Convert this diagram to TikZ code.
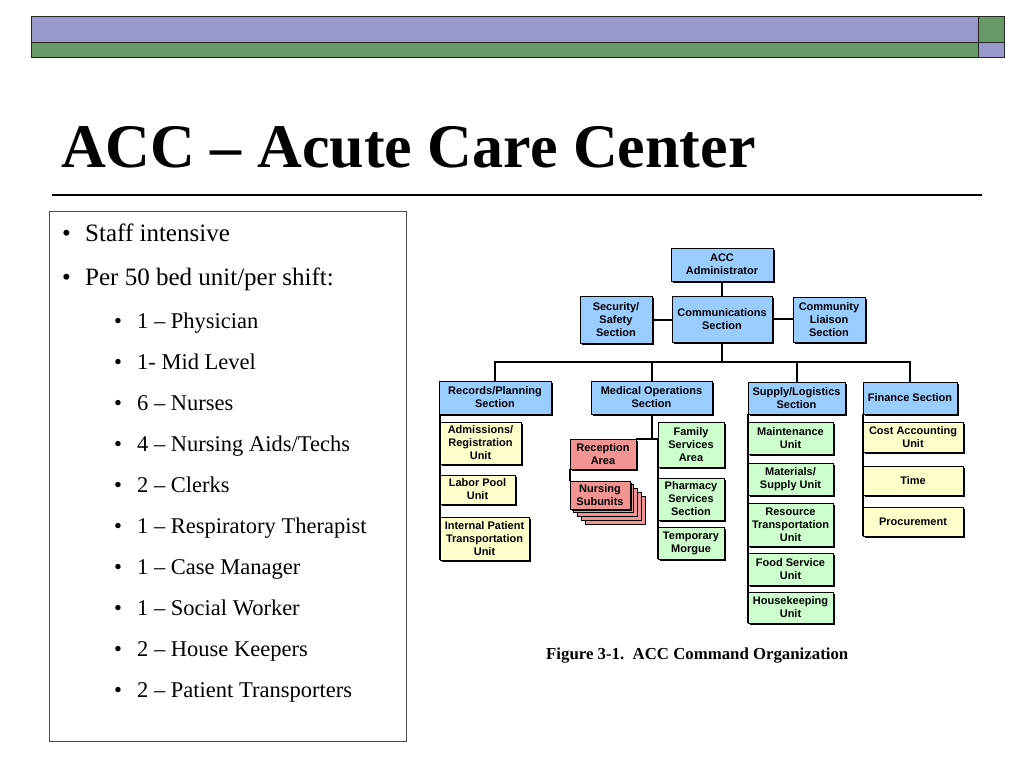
\documentclass[tikz,border=0pt]{standalone}
\usepackage{fontspec}
\setmainfont{Liberation Serif}
\newfontfamily\boxfont{Liberation Sans}
\usetikzlibrary{shadows}
\definecolor{barpurple}{HTML}{9999CC}
\definecolor{bargreen}{HTML}{669966}
\definecolor{orgblue}{HTML}{99CCFF}
\definecolor{orgyellow}{HTML}{FFFFCC}
\definecolor{orggreen}{HTML}{CCFFCC}
\definecolor{orgpink}{HTML}{F29494}
\tikzset{
  org/.style={draw=black, line width=0.8bp, inner sep=0pt, align=center,
    font=\boxfont\bfseries\fontsize{11bp}{13bp}\selectfont,
    general shadow={fill=black, shadow xshift=1.8bp, shadow yshift=-1.8bp}},
  bluebox/.style={org, fill=orgblue},
  yellowbox/.style={org, fill=orgyellow},
  greenbox/.style={org, fill=orggreen},
  pinkbox/.style={org, fill=orgpink},
  link/.style={line width=2bp, black},
  bartop/.style={draw=black!85, line width=1bp},
  lvlone/.style={anchor=base west, inner sep=0pt, font=\fontsize{25bp}{30bp}\selectfont},
  lvltwo/.style={anchor=base west, inner sep=0pt, font=\fontsize{22.5bp}{27bp}\selectfont},
}
\newcommand\orgbx[7]{\node[#1, minimum width={(#5-#3)*1bp}, minimum height={(#6-#4)*1bp}] (#2) at ({(#3+#5)/2},{(#4+#6)/2}) {#7};}
\begin{document}
\begin{tikzpicture}[x=1bp,y=-1bp]
\fill[white] (0,0) rectangle (1024,768);
\useasboundingbox (0,0) rectangle (1024,768);
% top bars
\filldraw[bartop, fill=barpurple] (31,17) rectangle (978,43);
\filldraw[bartop, fill=bargreen] (31,43) rectangle (978,58);
\filldraw[bartop, fill=bargreen] (978,17) rectangle (1004,43);
\filldraw[bartop, fill=barpurple] (978,43) rectangle (1004,58);
% title
\node[anchor=base west, inner sep=0pt, font=\bfseries\fontsize{62bp}{70bp}\selectfont] (title) at (61,167) {ACC – Acute Care Center};
\draw[line width=1.3bp] (52,195) -- (982,195);
% text box
\draw[black!70, line width=1bp] (49,211) rectangle (406,741);
\node[lvlone] (b1) at (62,241) {•};
\node[lvlone] (t1) at (85,241) {Staff intensive};
\node[lvlone] (b2) at (62,285) {•};
\node[lvlone] (t2) at (85,285) {Per 50 bed unit/per shift:};
\foreach \txt [count=\i from 0] in {1 – Physician, 1- Mid Level, 6 – Nurses, 4 – Nursing Aids/Techs, 2 – Clerks, 1 – Respiratory Therapist, 1 – Case Manager, 1 – Social Worker, 2 – House Keepers, 2 – Patient Transporters}{
  \node[lvltwo] (sb\i) at (114,{328+41*\i}) {•};
  \node[lvltwo] (st\i) at (137,{328+41*\i}) {\txt};
}
% org chart boxes
\orgbx{bluebox}{admin}{671}{248}{773}{281}{ACC\\Administrator}
\orgbx{bluebox}{comm}{672}{296}{772}{342}{Communications\\Section}
\orgbx{bluebox}{sec}{580}{296}{652}{343}{Security/\\Safety\\Section}
\orgbx{bluebox}{liaison}{793}{297}{865}{342}{Community\\Liaison\\Section}
\orgbx{bluebox}{rec}{439}{381}{551}{414}{Records/Planning\\Section}
\orgbx{bluebox}{med}{591}{381}{712}{414}{Medical Operations\\Section}
\orgbx{bluebox}{sup}{748}{382}{845}{414}{Supply/Logistics\\Section}
\orgbx{bluebox}{fin}{863}{382}{957}{414}{Finance Section}
\orgbx{yellowbox}{adm}{440}{422}{521}{464}{Admissions/\\Registration\\Unit}
\orgbx{yellowbox}{labor}{440}{475}{515}{504}{Labor Pool\\Unit}
\orgbx{yellowbox}{ipt}{440}{517}{529}{560}{Internal Patient\\Transportation\\Unit}
\orgbx{yellowbox}{cost}{863}{422}{963}{452}{Cost Accounting\\Unit}
\orgbx{yellowbox}{time}{863}{466}{963}{495}{Time}
\orgbx{yellowbox}{proc}{863}{507}{963}{536}{Procurement}
\orgbx{pinkbox}{recp}{570}{439}{636}{469}{Reception\\Area}
\foreach \k in {4,3,2,1}{
  \filldraw[fill=orgpink, draw=black, line width=0.8bp] ({570+\k*3.75},{481+\k*3.75}) rectangle ({630+\k*3.75},{509+\k*3.75});
}
\orgbx{pinkbox}{nurs}{570}{481}{630}{509}{Nursing\\Subunits}
\orgbx{greenbox}{fam}{658}{422}{724}{467}{Family\\Services\\Area}
\orgbx{greenbox}{pharm}{658}{478}{724}{520}{Pharmacy\\Services\\Section}
\orgbx{greenbox}{morg}{658}{527}{724}{559}{Temporary\\Morgue}
\orgbx{greenbox}{maint}{748}{422}{833}{454}{Maintenance\\Unit}
\orgbx{greenbox}{mat}{748}{463}{833}{495}{Materials/\\Supply Unit}
\orgbx{greenbox}{res}{748}{503}{833}{546}{Resource\\Transportation\\Unit}
\orgbx{greenbox}{food}{748}{553}{833}{585}{Food Service\\Unit}
\orgbx{greenbox}{house}{748}{592}{833}{623}{Housekeeping\\Unit}
% connectors
\coordinate (bus) at (722,362);
\draw[link] (admin.south) -- (comm.north);
\draw[link] (sec.east) -- (sec.east -| comm.west);
\draw[link] (comm.east) -- (comm.east -| liaison.west);
\draw[link] (comm.south) -- (bus);
\draw[link] (rec.north) |- (bus);
\draw[link] (fin.north) |- (bus);
\draw[link] (med.north) -- (med.north |- bus);
\draw[link] (sup.north) -- (sup.north |- bus);
\draw[link] (rec.south -| adm.west) -- (ipt.south west);
\draw[link] (med.south) -- (med.south |- recp.north);
\draw[link] (recp.north east) -- (recp.north -| fam.west) -- (morg.south west);
\draw[link] (recp.south west) -- (nurs.north west);
\draw[link] (sup.south -| maint.west) -- (house.south west);
\draw[link] (fin.south -| cost.west) -- (proc.south west);
% caption
\node[anchor=base west, inner sep=0pt, font=\bfseries\fontsize{16.8bp}{20bp}\selectfont] (caption) at (546,659) {Figure 3-1.\ \ ACC Command Organization};
\end{tikzpicture}
\end{document}
